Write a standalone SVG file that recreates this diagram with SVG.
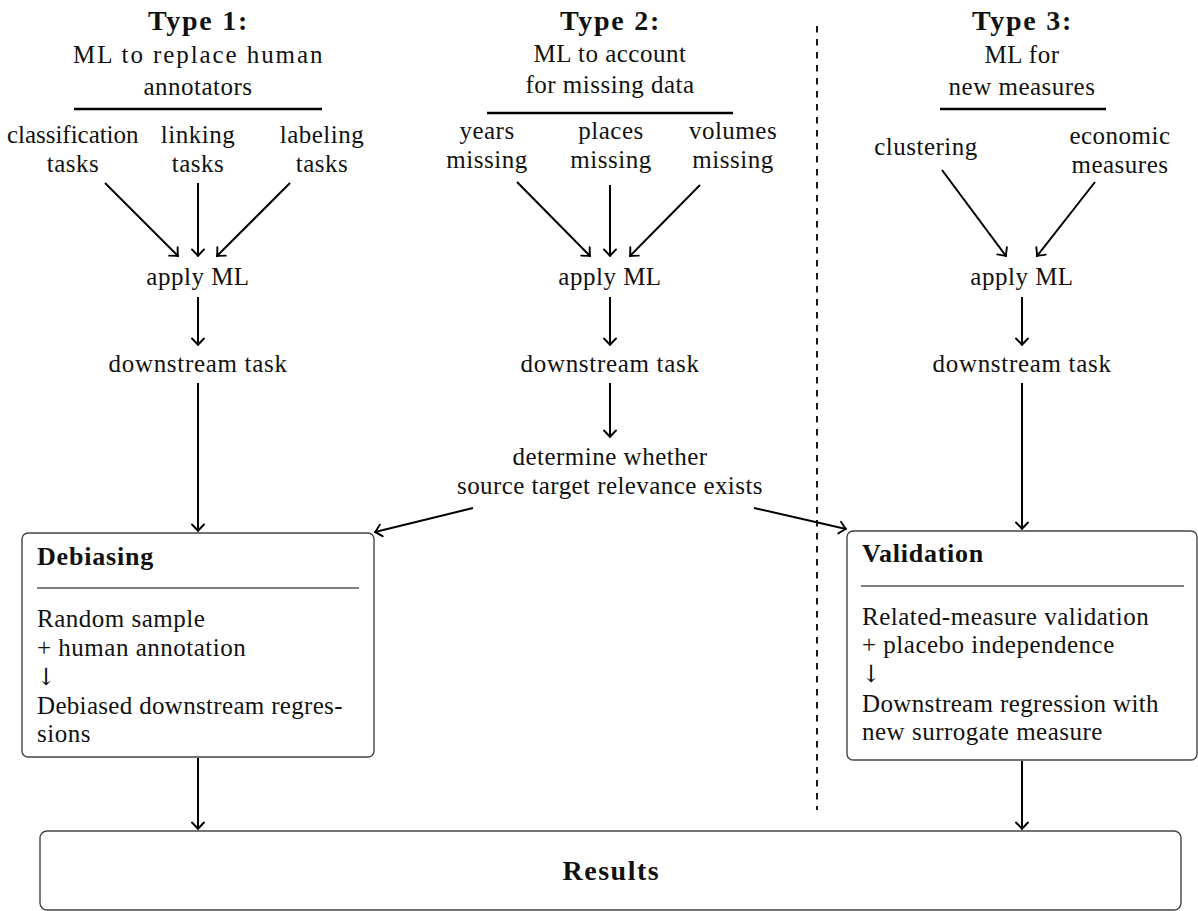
<svg xmlns="http://www.w3.org/2000/svg" width="1198" height="911" viewBox="0 0 1198 911">
<defs>
<style>
text{font-family:"Liberation Serif","DejaVu Serif",serif;font-size:25px;fill:#111;letter-spacing:0.5px}
.c{text-anchor:middle}
.b{font-weight:bold;font-size:26px;letter-spacing:0.8px}
.h{font-size:28px}
.da{font-family:"DejaVu Serif",serif;font-size:24px;letter-spacing:0}
.rule{stroke:#000;stroke-width:2.3}
.box{fill:#fff;stroke:#444;stroke-width:1.4}
.sep{stroke:#555;stroke-width:1.3}
.arr{fill:none;stroke:#000;stroke-width:2;marker-end:url(#tip)}
.dash{stroke:#000;stroke-width:1.8;stroke-dasharray:6.5 6.5}
</style>
<marker id="tip" viewBox="-9 -8 10 16" markerWidth="10" markerHeight="16" refX="0" refY="0" orient="auto" markerUnits="userSpaceOnUse">
<path d="M-6.5,-6 Q-1.8,-1.3 0,0 Q-1.8,1.3 -6.5,6" fill="none" stroke="#000" stroke-width="1.9" stroke-linecap="round"/>
</marker>
</defs>
<rect width="1198" height="911" fill="#fff"/>

<line class="dash" x1="817" y1="26" x2="817" y2="810"/>

<g id="type1">
<text class="c b h" x="198" y="30" textLength="100">Type 1:</text>
<text class="c" x="198" y="63" textLength="250">ML to replace human</text>
<text class="c" x="198" y="95">annotators</text>
<line class="rule" x1="74" y1="109" x2="322" y2="109"/>
</g>
<g id="t1-classification"><text class="c" x="73" y="143" textLength="132">classification</text><text class="c" x="73" y="172">tasks</text></g>
<g id="t1-linking"><text class="c" x="198" y="143">linking</text><text class="c" x="198" y="172">tasks</text></g>
<g id="t1-labeling"><text class="c" x="322" y="143">labeling</text><text class="c" x="322" y="172">tasks</text></g>
<g id="t1-apply"><text class="c" x="198" y="285">apply ML</text></g>
<g id="t1-down"><text class="c" x="198" y="372" textLength="179">downstream task</text></g>

<g id="type2">
<text class="c b h" x="610" y="30" textLength="100">Type 2:</text>
<text class="c" x="610" y="62">ML to account</text>
<text class="c" x="610" y="93">for missing data</text>
<line class="rule" x1="487" y1="113" x2="733" y2="113"/>
</g>
<g id="t2-years"><text class="c" x="487" y="139">years</text><text class="c" x="487" y="168">missing</text></g>
<g id="t2-places"><text class="c" x="611" y="139">places</text><text class="c" x="611" y="168">missing</text></g>
<g id="t2-volumes"><text class="c" x="733" y="139">volumes</text><text class="c" x="733" y="168">missing</text></g>
<g id="t2-apply"><text class="c" x="610" y="285">apply ML</text></g>
<g id="t2-down"><text class="c" x="610" y="372" textLength="179">downstream task</text></g>
<g id="t2-determine"><text class="c" x="610" y="465">determine whether</text><text class="c" x="610" y="494" textLength="306">source target relevance exists</text></g>

<g id="type3">
<text class="c b h" x="1022" y="30" textLength="100">Type 3:</text>
<text class="c" x="1022" y="63">ML for</text>
<text class="c" x="1022" y="95">new measures</text>
<line class="rule" x1="940" y1="109" x2="1106" y2="109"/>
</g>
<g id="t3-clustering"><text class="c" x="926" y="155">clustering</text></g>
<g id="t3-economic"><text class="c" x="1120" y="144">economic</text><text class="c" x="1120" y="173">measures</text></g>
<g id="t3-apply"><text class="c" x="1022" y="285">apply ML</text></g>
<g id="t3-down"><text class="c" x="1022" y="372" textLength="179">downstream task</text></g>

<g id="debiasing">
<rect class="box" x="22" y="533" width="352" height="224" rx="6"/>
<text class="b" x="37" y="565" textLength="117">Debiasing</text>
<line class="sep" x1="37" y1="588" x2="359" y2="588"/>
<text x="37" y="627">Random sample</text>
<text x="37" y="656">+ human annotation</text>
<text class="da" x="36" y="685">↓</text>
<text x="37" y="714" textLength="306">Debiased downstream regres-</text>
<text x="37" y="742">sions</text>
</g>

<g id="validation">
<rect class="box" x="847" y="531" width="350" height="229" rx="6"/>
<text class="b" x="862" y="562" textLength="122">Validation</text>
<line class="sep" x1="861" y1="586" x2="1184" y2="586"/>
<text x="862" y="625">Related-measure validation</text>
<text x="862" y="653">+ placebo independence</text>
<text class="da" x="861" y="682">↓</text>
<text x="862" y="712" textLength="297">Downstream regression with</text>
<text x="862" y="740">new surrogate measure</text>
</g>

<g id="results">
<rect class="box" x="40" y="831" width="1141" height="79" rx="7"/>
<text class="c b h" x="611" y="880" textLength="97">Results</text>
</g>

<g id="connectors">
<line class="arr" x1="105" y1="183" x2="178" y2="256"/>
<line class="arr" x1="198" y1="183" x2="198" y2="256"/>
<line class="arr" x1="290" y1="183" x2="217" y2="256"/>
<line class="arr" x1="198" y1="297" x2="198" y2="345"/>
<line class="arr" x1="198" y1="383" x2="198" y2="531"/>
<line class="arr" x1="517" y1="182" x2="590" y2="256"/>
<line class="arr" x1="610" y1="185" x2="610" y2="256"/>
<line class="arr" x1="700" y1="185" x2="630" y2="256"/>
<line class="arr" x1="610" y1="297" x2="610" y2="345"/>
<line class="arr" x1="610" y1="383" x2="610" y2="437"/>
<line class="arr" x1="473" y1="508" x2="375" y2="532"/>
<line class="arr" x1="754" y1="508" x2="846" y2="529"/>
<line class="arr" x1="942" y1="170" x2="1006" y2="256"/>
<line class="arr" x1="1095" y1="182" x2="1037" y2="256"/>
<line class="arr" x1="1022" y1="297" x2="1022" y2="345"/>
<line class="arr" x1="1022" y1="383" x2="1022" y2="529"/>
<line class="arr" x1="198" y1="758" x2="198" y2="829"/>
<line class="arr" x1="1022" y1="761" x2="1022" y2="829"/>
</g>
</svg>
